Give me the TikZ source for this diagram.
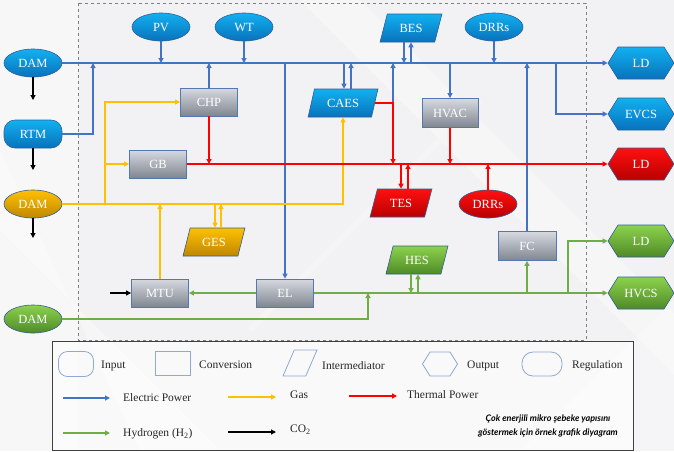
\documentclass[tikz,border=0pt]{standalone}
\usepackage{fontspec}
\setmainfont{Liberation Serif}
\newfontfamily\capfont{Lato}
\usetikzlibrary{arrows.meta,shapes.geometric,shapes.symbols}
\definecolor{eblue}{HTML}{4472C4}
\definecolor{gasc}{HTML}{FFC000}
\definecolor{thred}{HTML}{FF0000}
\definecolor{hgreen}{HTML}{70AD47}
\definecolor{bgc}{HTML}{F2F2F4}
\definecolor{bTop}{HTML}{12B0F0}
\definecolor{bBot}{HTML}{0872BC}
\definecolor{bEdge}{HTML}{2F5F99}
\definecolor{gTop}{HTML}{D6D9E0}
\definecolor{gBot}{HTML}{808690}
\definecolor{gEdge}{HTML}{5577B3}
\definecolor{oTop}{HTML}{FFC000}
\definecolor{oBot}{HTML}{BF8700}
\definecolor{rTop}{HTML}{FF1010}
\definecolor{rBot}{HTML}{B80000}
\definecolor{grTop}{HTML}{8DD24C}
\definecolor{grBot}{HTML}{4E8A28}
\definecolor{legEdge}{HTML}{8EA9D4}
\begin{document}
\begin{tikzpicture}[x=1pt,y=-1pt,
  >={Triangle[length=5pt,width=5pt]},
  ln/.style={line width=1.15pt},
  el/.style={ln,draw=eblue},
  gs/.style={ln,draw=gasc},
  th/.style={ln,draw=thred},
  hy/.style={ln,draw=hgreen},
  co/.style={ln,draw=black},
  nd/.style={text=white,font=\fontsize{12.5}{14}\selectfont,inner sep=1pt},
  bluef/.style={top color=bTop,bottom color=bBot,draw=bEdge,line width=0.6pt},
  grayf/.style={top color=gTop,bottom color=gBot,draw=gEdge,line width=0.8pt},
  orf/.style={top color=oTop,bottom color=oBot,draw=bEdge,line width=0.6pt},
  redf/.style={top color=rTop,bottom color=rBot,draw=bEdge,line width=0.6pt},
  grf/.style={top color=grTop,bottom color=grBot,draw=bEdge,line width=0.6pt},
  inell/.style={nd,ellipse,minimum width=58pt,minimum height=28pt},
  convbox/.style={nd,rectangle,minimum width=57pt,minimum height=28pt},
  interbox/.style={nd,trapezium,trapezium left angle=70,trapezium right angle=110,trapezium stretches=true,minimum width=62pt,minimum height=28pt},
  outhex/.style={nd,signal,signal to=west and east,signal pointer angle=116,minimum width=66pt,minimum height=32pt},
  regbox/.style={nd,rectangle,rounded corners=11pt,minimum width=58pt,minimum height=28pt},
  legtxt/.style={font=\fontsize{11.5}{13}\selectfont,anchor=west,inner sep=0pt,text=black!85},
  legshape/.style={draw=legEdge,line width=0.8pt,fill=none,inner sep=3pt}
]
\useasboundingbox (0,0) rectangle (674,451);
% background
\fill[bgc] (0,0) rectangle (674,451);
\fill[white,opacity=0.45] (0,0) rectangle (78,451);
\fill[white,opacity=0.35] (0,150) -- (0,230) -- (220,451) -- (140,451) -- cycle;
\fill[white,opacity=0.35] (300,0) -- (360,0) -- (674,314) -- (674,374) -- cycle;
\fill[white,opacity=0.30] (520,451) -- (674,300) -- (674,451) -- cycle;
\draw[black!5,line width=6pt] (140,170) -- (300,10);
\draw[black!4,line width=6pt] (250,330) -- (480,100);

% dashed frame
\draw[black!50,dashed,line width=0.7pt] (78,3) rectangle (586,340);

% nodes
\node[inell,bluef] (dam1) at (33,63) {DAM};
\node[regbox,bluef] (rtm) at (33,134) {RTM};
\node[inell,orf] (dam2) at (33,204) {DAM};
\node[inell,grf] (dam3) at (33,319) {DAM};
\node[inell,bluef] (pv) at (161,27) {PV};
\node[inell,bluef] (wt) at (244,27) {WT};
\node[interbox,bluef] (bes) at (411,28) {BES};
\node[inell,bluef] (drr1) at (494,27) {DRRs};
\node[convbox,grayf] (chp) at (209,102) {CHP};
\node[convbox,grayf] (gb) at (158,164) {GB};
\node[interbox,bluef,minimum width=70pt] (caes) at (343,103) {CAES};
\node[convbox,grayf,minimum width=56pt,minimum height=29pt] (hvac) at (450,113) {HVAC};
\node[interbox,redf] (tes) at (401,203) {TES};
\node[inell,redf] (drr2) at (488,204) {DRRs};
\node[interbox,orf] (ges) at (214,242) {GES};
\node[convbox,grayf] (mtu) at (160,293) {MTU};
\node[convbox,grayf] (el) at (285,293) {EL};
\node[interbox,grf] (hes) at (417,260) {HES};
\node[convbox,grayf,minimum width=58pt,minimum height=29pt] (fc) at (527,246) {FC};
\node[outhex,bluef] (ld1) at (641,63) {LD};
\node[outhex,bluef] (evcs) at (641,114) {EVCS};
\node[outhex,redf] (ld2) at (641,164) {LD};
\node[outhex,grf] (ld3) at (641,241) {LD};
\node[outhex,grf] (hvcs) at (641,293) {HVCS};

% junction coordinates
\coordinate (rtmj) at (93,63);
\coordinate (besA) at (404,63);
\coordinate (besB) at (411,63);
\coordinate (caA) at (344,63);
\coordinate (caB) at (351,63);
\coordinate (caC) at (393,63);
\coordinate (caR) at (393,103);
\coordinate (caT) at (393,164);
\coordinate (evj) at (556,63);
\coordinate (gj) at (105,204);
\coordinate (geA) at (215,204);
\coordinate (geB) at (221,204);
\coordinate (teA) at (401,164);
\coordinate (teB) at (408,164);
\coordinate (hj) at (368,293);
\coordinate (heA) at (411,293);
\coordinate (heB) at (418,293);
\coordinate (ldj) at (568,293);
\coordinate (co2) at (110,293);
\coordinate (c1) at (33,100);
\coordinate (c2) at (33,170);
\coordinate (c3) at (33,238);

% electric
\draw[el,->] (dam1.east) -- (ld1.west);
\draw[el,->] (pv.south) -- (pv.south |- dam1.east);
\draw[el,->] (wt.south) -- (wt.south |- dam1.east);
\draw[el,->] (rtm.east) -| (rtmj);
\draw[el,->] (chp.north) -- (chp.north |- dam1.east);
\draw[el,->] (besB) -- (besB |- bes.south);
\draw[el,->] (besA |- bes.south) -- (besA);
\draw[el,->] (caA) -- (caA |- caes.north);
\draw[el,->] (caB |- caes.north) -- (caB);
\draw[el,->] (caR) -- (caC);
\draw[el,->] (hvac.north |- dam1.east) -- (hvac.north);
\draw[el,->] (drr1.south) -- (drr1.south |- dam1.east);
\draw[el,->] (fc.north) -- (fc.north |- dam1.east);
\draw[el,->] (evj) |- (evcs.west);
\draw[el,->] (el.north |- dam1.east) -- (el.north);

% gas
\draw[gs,->] (dam2.east) -| (caes.south);
\draw[gs,->] (gj) |- (chp.west);
\draw[gs,->] (gj |- gb.west) -- (gb.west);
\draw[gs,->] (mtu.north) -- (mtu.north |- dam2.east);
\draw[gs,->] (geA) -- (geA |- ges.north);
\draw[gs,->] (geB |- ges.north) -- (geB);

% thermal
\draw[th,->] (gb.east) -- (ld2.west);
\draw[th,->] (chp.south) -- (chp.south |- gb.east);
\draw[th,->] (hvac.south) -- (hvac.south |- gb.east);
\draw[th,->] (caes.east) -| (caT);
\draw[th,->] (teA) -- (teA |- tes.north);
\draw[th,->] (teB |- tes.north) -- (teB);
\draw[th,->] (drr2.north) -- (drr2.north |- gb.east);

% hydrogen
\draw[hy,->] (el.west) -- (mtu.east);
\draw[hy,->] (el.east) -- (hvcs.west);
\draw[hy,->] (dam3.east) -| (hj);
\draw[hy,->] (heA |- hes.south) -- (heA);
\draw[hy,->] (heB) -- (heB |- hes.south);
\draw[hy,->] (fc.south |- el.east) -- (fc.south);
\draw[hy,->] (ldj) |- (ld3.west);

% CO2
\draw[co,->] (co2) -- (mtu.west);
\draw[co,->] (dam1.south) -- (c1);
\draw[co,->] (rtm.south) -- (c2);
\draw[co,->] (dam2.south) -- (c3);

% legend
\draw[fill=white,fill opacity=0.6,draw=black!75,line width=0.8pt] (52,341) rectangle (633,450);
\node[legshape,rectangle,rounded corners=9pt,minimum width=35pt,minimum height=25pt] (lin) at (76,364) {};
\node[legtxt] (lint) at (101,366) {Input};
\node[legshape,rectangle,minimum width=35pt,minimum height=24pt] (lconv) at (173,363) {};
\node[legtxt] (lconvt) at (199,365) {Conversion};
\node[legshape,trapezium,trapezium left angle=72,trapezium right angle=108,trapezium stretches=true,minimum width=34pt,minimum height=26pt] (linter) at (300,363) {\strut};
\node[legtxt] (lintert) at (322,366) {Intermediator};
\node[legshape,signal,signal to=west and east,signal pointer angle=116,minimum width=35pt,minimum height=24pt] (lout) at (440,364) {};
\node[legtxt] (loutt) at (467,366) {Output};
\node[legshape,rectangle,rounded corners=11pt,minimum width=40pt,minimum height=24pt] (lreg) at (542,364) {};
\node[legtxt] (lregt) at (572,366) {Regulation};

\coordinate (la1) at (63,398); \coordinate (la2) at (110,398);
\draw[el,->] (la1) -- (la2);
\node[legtxt] (lat) at (123,398) {Electric Power};
\coordinate (lb1) at (228,397); \coordinate (lb2) at (276,397);
\draw[gs,->] (lb1) -- (lb2);
\node[legtxt] (lbt) at (290,395) {Gas};
\coordinate (lc1) at (349,396); \coordinate (lc2) at (397,396);
\draw[th,->] (lc1) -- (lc2);
\node[legtxt] (lct) at (407,395) {Thermal Power};
\coordinate (ld1a) at (63,433); \coordinate (ld2a) at (110,433);
\draw[hy,->] (ld1a) -- (ld2a);
\node[legtxt] (ldt) at (123,434) {Hydrogen (H\textsubscript{2})};
\coordinate (le1) at (228,432); \coordinate (le2) at (276,432);
\draw[co,->] (le1) -- (le2);
\node[legtxt] (let) at (290,430) {CO\textsubscript{2}};

\node[font=\capfont\bfseries\itshape\fontsize{9}{14}\selectfont,align=center,inner sep=0pt,text=black] (cap) at (548,426) {Çok enerjili mikro şebeke yapısını\\göstermek için örnek grafik diyagram};
\end{tikzpicture}
\end{document}
